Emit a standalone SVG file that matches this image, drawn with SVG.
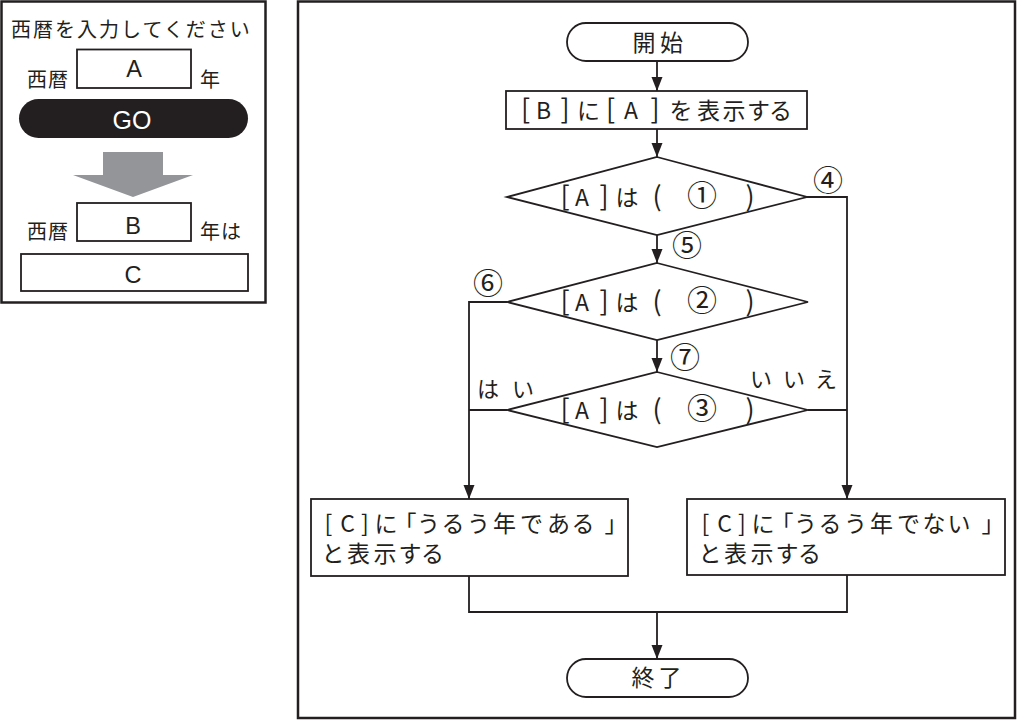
<svg xmlns="http://www.w3.org/2000/svg" width="1017" height="720" viewBox="0 0 1017 720">
<style>
text{font-family:"Noto Sans CJK JP","Noto Sans",sans-serif;fill:#231f20}
.f{fill:#fff;stroke:#231f20;stroke-width:1.8}
.frame{fill:#fff;stroke:#231f20;stroke-width:2.5}
.ln{fill:none;stroke:#231f20;stroke-width:1.8}
.m{font-size:23px;text-anchor:middle}
.b{font-size:27px}
.c{font-size:30px;text-anchor:middle}
.lab{font-size:22px;text-anchor:middle}
.p{font-size:20px}
.lat{font-family:"Liberation Sans",Arial,sans-serif;font-size:23.5px;text-anchor:middle}
</style>
<defs>
<marker id="ar" markerUnits="userSpaceOnUse" markerWidth="16" markerHeight="12" viewBox="0 0 16 12" refX="15" refY="6" orient="auto">
<path d="M1,0.5 L15,6 L1,11.5 Z" fill="#231f20"/>
</marker>
</defs>
<rect width="1017" height="720" fill="#fff"/>

<g id="form">
<rect class="frame" x="1.5" y="1.5" width="264" height="301"/>
<text class="p" x="11" y="37" letter-spacing="2">西暦を入力してください</text>
<text class="p" x="27" y="87" letter-spacing="1">西暦</text>
<rect class="f" x="77" y="49.5" width="114" height="38.5" stroke-width="1.5"/>
<text class="lat" x="134" y="77">A</text>
<text class="p" x="200" y="87">年</text>
<rect x="19" y="99" width="229" height="39" rx="19.5" fill="#231f20"/>
<text class="lat" x="132" y="129" style="fill:#fff;font-size:25px">GO</text>
<polygon points="103,152 163,152 163,175 193,175 133,197 73,175 103,175" fill="#939598"/>
<text class="p" x="27" y="239" letter-spacing="1">西暦</text>
<rect class="f" x="77" y="203" width="114" height="38" stroke-width="1.5"/>
<text class="lat" x="133" y="233.5">B</text>
<text class="p" x="200" y="239" letter-spacing="1">年は</text>
<rect class="f" x="21" y="254" width="227" height="37" stroke-width="1.5"/>
<text class="lat" x="133" y="283">C</text>
</g>

<g id="flow-frame">
<rect class="frame" x="298" y="1.5" width="717" height="716.5"/>
</g>

<g id="connectors">
<line class="ln" x1="657" y1="61" x2="657" y2="91" marker-end="url(#ar)"/>
<line class="ln" x1="657" y1="129" x2="657" y2="157" marker-end="url(#ar)"/>
<line class="ln" x1="657" y1="235" x2="657" y2="263" marker-end="url(#ar)"/>
<line class="ln" x1="657" y1="340" x2="657" y2="372" marker-end="url(#ar)"/>
<polyline class="ln" points="807,197 847,197 847,499" marker-end="url(#ar)"/>
<polyline class="ln" points="507,302 469,302 469,499" marker-end="url(#ar)"/>
<line class="ln" x1="507" y1="410" x2="469" y2="410"/>
<line class="ln" x1="808" y1="410" x2="847" y2="410"/>
<polyline class="ln" points="469,576 469,612 847,612 847,575"/>
<line class="ln" x1="657" y1="612" x2="657" y2="659" marker-end="url(#ar)"/>
</g>

<g id="start">
<rect class="f" x="567" y="23" width="181" height="38" rx="19"/>
<text class="m" x="644 671.5" y="51">開始</text>
</g>

<g id="show-b">
<rect class="f" x="506" y="91" width="301" height="38"/>
<text class="m" y="119"><tspan class="b" x="525.5">[</tspan><tspan x="543.5">B</tspan><tspan class="b" x="565">]</tspan><tspan x="588.5">に</tspan><tspan class="b" x="610.5">[</tspan><tspan x="631">A</tspan><tspan class="b" x="655">]</tspan><tspan x="681 708.5 734 758.5 780.5">を表示する</tspan></text>
</g>

<g id="cond1">
<polygon class="f" points="657,157 807,197 657,235 507,197"/>
<text class="m" y="206"><tspan class="b" x="565">[</tspan><tspan x="582">A</tspan><tspan class="b" x="604">]</tspan><tspan x="627">は</tspan><tspan class="b" x="657">(</tspan><tspan x="702" style="font-size:30px">①</tspan><tspan class="b" x="750">)</tspan></text>
</g>

<g id="cond2">
<polygon class="f" points="657,263 808,302 657,340 507,302"/>
<text class="m" y="311"><tspan class="b" x="565">[</tspan><tspan x="582">A</tspan><tspan class="b" x="604">]</tspan><tspan x="627">は</tspan><tspan class="b" x="657">(</tspan><tspan x="702" style="font-size:30px">②</tspan><tspan class="b" x="750">)</tspan></text>
</g>

<g id="cond3">
<polygon class="f" points="657,372 808,410 657,447 507,410"/>
<text class="m" y="419"><tspan class="b" x="565">[</tspan><tspan x="582">A</tspan><tspan class="b" x="604">]</tspan><tspan x="627">は</tspan><tspan class="b" x="657">(</tspan><tspan x="702" style="font-size:30px">③</tspan><tspan class="b" x="750">)</tspan></text>
</g>

<g id="labels">
<text class="c" x="828" y="191">④</text>
<text class="c" x="687" y="256">⑤</text>
<text class="c" x="488" y="294">⑥</text>
<text class="c" x="685" y="368">⑦</text>
<text class="lab" x="488 523" y="397">はい</text>
<text class="lab" x="761 794 826" y="387">いいえ</text>
</g>

<g id="leap">
<rect class="f" x="311" y="499" width="317" height="77"/>
<text class="m" x="328.5 347.5 365 386 405 428.5 453 478.5 504.5 531.5 558.5 583 616" y="532">[C]に「うるう年である」</text>
<text class="m" x="333 358.5 385 410 432.5" y="562">と表示する</text>
</g>

<g id="not-leap">
<rect class="f" x="687" y="499" width="318" height="76"/>
<text class="m" x="705.5 724.5 742 763 782 805.5 830 855.5 881.5 908.5 934 959 993" y="532">[C]に「うるう年でない」</text>
<text class="m" x="710 735.5 762 787 809.5" y="562">と表示する</text>
</g>

<g id="end">
<rect class="f" x="567" y="659" width="181" height="38" rx="19"/>
<text class="m" x="643 670" y="686">終了</text>
</g>
</svg>
